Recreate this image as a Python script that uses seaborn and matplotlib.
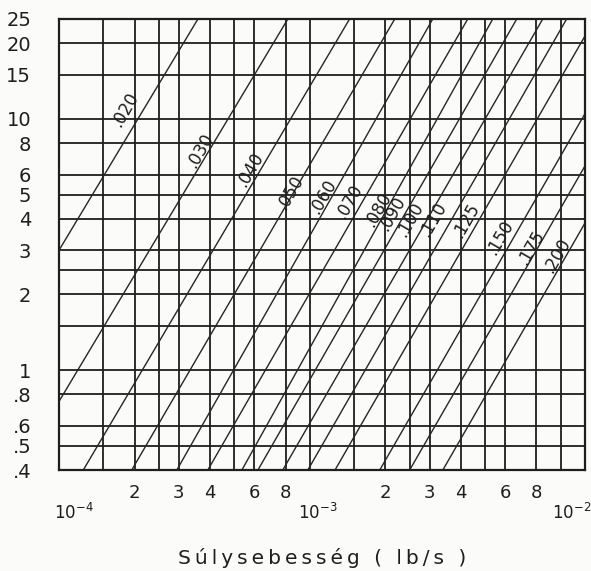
import numpy as np
import pandas as pd
import matplotlib
matplotlib.use("Agg")
import matplotlib.pyplot as plt
from matplotlib.ticker import FixedLocator, FixedFormatter, NullLocator, NullFormatter
import seaborn as sns

# ---- data ----
diameters = [".020", ".030", ".040", ".050", ".060", ".070", ".080",
             ".090", ".100", ".110", ".125", ".150", ".175", ".200"]
x_start = [1.0e-4, 1.0e-4, 1.25e-4, 1.95e-4, 2.95e-4, 3.92e-4, 5.36e-4,
           6.21e-4, 7.80e-4, 9.82e-4, 1.26e-3, 1.90e-3, 2.50e-3, 3.39e-3]
y_start = [3.0, 0.75, 0.4, 0.4, 0.4, 0.4, 0.4,
           0.4, 0.4, 0.4, 0.4, 0.4, 0.4, 0.4]
x_end = [3.58e-4, 8.17e-4, 1.44e-3, 2.18e-3, 3.09e-3, 4.26e-3, 5.36e-3,
         6.68e-3, 8.48e-3, 1.056e-2, 1.25e-2, 1.25e-2, 1.25e-2, 1.25e-2]
y_end = [25, 25, 25, 25, 25, 25, 25,
         25, 25, 25, 21.4, 10.5, 6.5, 3.85]
label_x = [1.83e-4, 3.65e-4, 5.77e-4, 8.32e-4, 1.13e-3, 1.43e-3, 1.87e-3,
           2.12e-3, 2.50e-3, 3.09e-3, 4.21e-3, 5.71e-3, 7.60e-3, 9.64e-3]
label_y = [10.9, 7.5, 6.27, 5.08, 4.89, 4.67, 4.35,
           4.2, 3.98, 3.98, 3.95, 3.38, 3.08, 2.85]

x_minor_grid = [1.5e-4, 2e-4, 2.5e-4, 3e-4, 4e-4, 5e-4, 6e-4, 8e-4,
                1.5e-3, 2e-3, 2.5e-3, 3e-3, 4e-3, 5e-3, 6e-3, 8e-3]
x_minor_labels = ["", "2", "", "3", "4", "", "6", "8",
                  "", "2", "", "3", "4", "", "6", "8"]
x_decades = [1e-4, 1e-3, 1e-2]
x_decade_labels = ["$10^{-4}$", "$10^{-3}$", "$10^{-2}$"]
x_decade_label_shift = [15, 8, 11]   # label offsets to the right of the line, px
y_grid = [0.4, 0.5, 0.6, 0.8, 1, 1.5, 2, 2.5, 3, 4, 5, 6, 8, 10, 15, 20, 25]
y_grid_labels = [".4", ".5", ".6", ".8", "1", "", "2", "", "3", "4", "5",
                 "6", "8", "10", "15", "20", "25"]
x_limits = (1e-4, 1.25e-2)
y_limits = (0.4, 25)
x_title = "Súlysebesség ( lb/s )"

# ---- table for seaborn ----
df = pd.DataFrame({
    "diameter": diameters + diameters,
    "x": x_start + x_end,
    "y": y_start + y_end,
})

sns.set_style("white")
plt.rcParams["font.family"] = ["DejaVu Sans"]

ink = "#1e1e1e"
paper = "#fbfbf9"
fig = plt.figure(figsize=(5.91, 5.71), dpi=100)
fig.patch.set_facecolor(paper)
ax = fig.add_axes([59 / 591, 1 - 470 / 571, (585 - 59) / 591, (470 - 19) / 571])
ax.set_facecolor(paper)
ax.set_xscale("log")
ax.set_yscale("log")

sns.lineplot(data=df, x="x", y="y", units="diameter", estimator=None,
             color="#262626", linewidth=1.0, ax=ax, legend=False)

for lab, lx, ly in zip(diameters, label_x, label_y):
    ax.text(lx, ly, lab, rotation=60, rotation_mode="anchor",
            ha="center", va="center", fontsize=12, color=ink)

ax.set_xlim(*x_limits)
ax.set_ylim(*y_limits)

# x ticks: decades (major) and intermediate grid (minor)
ax.xaxis.set_major_locator(FixedLocator(x_decades))
ax.xaxis.set_major_formatter(NullFormatter())
ax.xaxis.set_minor_locator(FixedLocator(x_minor_grid))
ax.xaxis.set_minor_formatter(FixedFormatter(x_minor_labels))
ax.yaxis.set_major_locator(FixedLocator(y_grid))
ax.yaxis.set_major_formatter(FixedFormatter(y_grid_labels))
ax.yaxis.set_minor_locator(NullLocator())

ax.tick_params(axis="x", which="both", length=0, pad=10, labelsize=13, labelcolor=ink)
ax.tick_params(axis="y", which="major", length=0, pad=20, labelsize=14, labelcolor=ink)

# decade labels on a second row, slightly right of their grid lines
for xv, lab, sh in zip(x_decades, x_decade_labels, x_decade_label_shift):
    ax.annotate(lab, xy=(xv, 0), xycoords=("data", "axes fraction"),
                xytext=(sh * 0.72, -43 * 0.72), textcoords="offset points",
                ha="center", va="center", fontsize=12, color=ink)

ax.grid(True, which="both", axis="x", color=ink, linewidth=1.3)
ax.grid(True, which="major", axis="y", color=ink, linewidth=1.3)
ax.set_axisbelow(True)

for s in ax.spines.values():
    s.set_visible(True)
    s.set_color(ink)
    s.set_linewidth(1.6)

spaced_title = "\u2009".join(x_title)
ax.set_xlabel(spaced_title, fontsize=14.5, color=ink, labelpad=33)
ax.set_ylabel("")

fig.savefig("out.png", dpi=100, facecolor=fig.get_facecolor())
